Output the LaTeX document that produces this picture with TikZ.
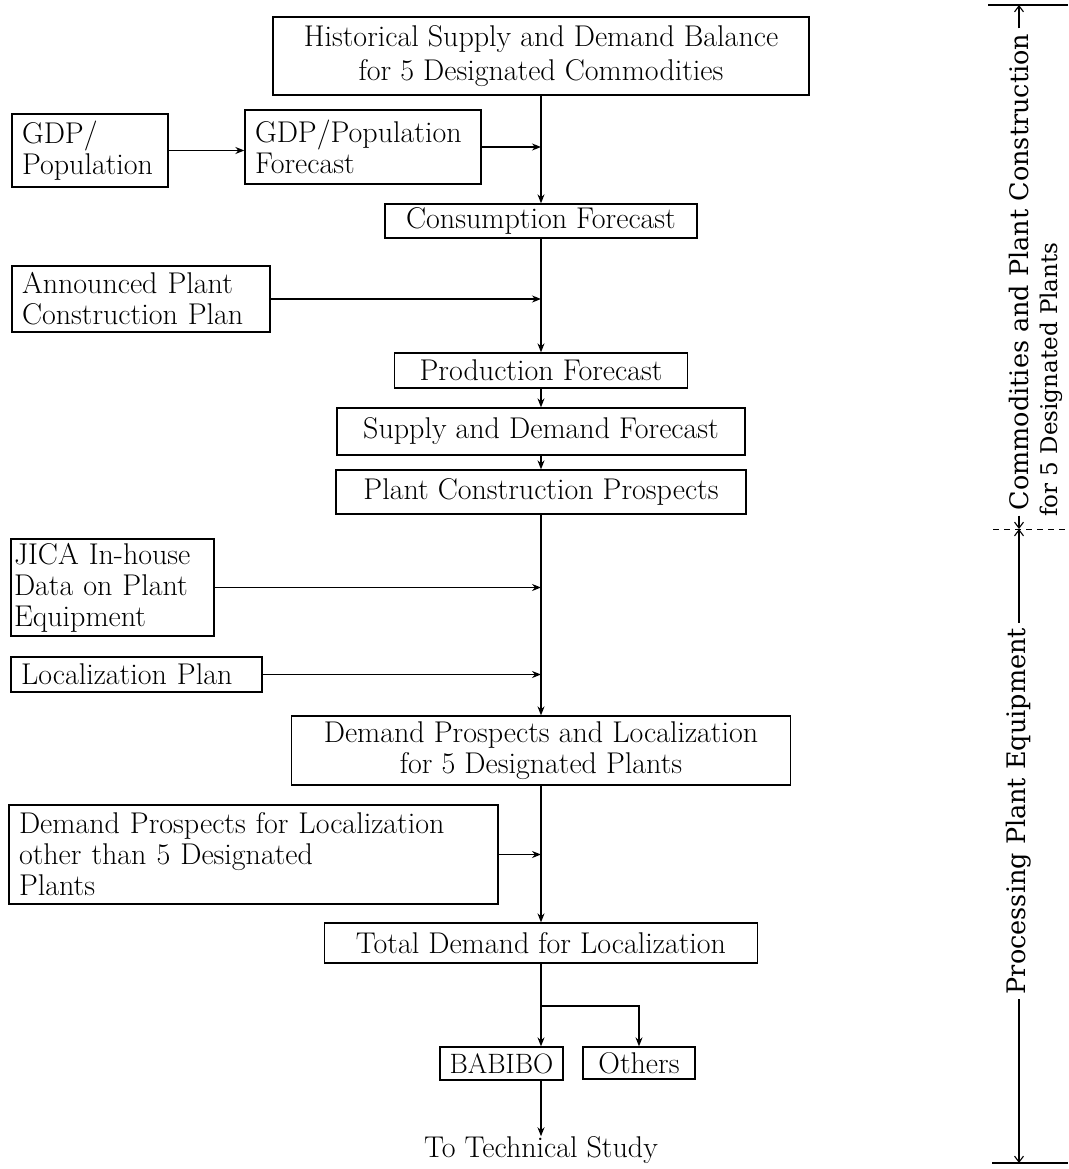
\documentclass[tikz,border=0pt]{standalone}
\usepackage{fontspec}
\usepackage{tikz}
\usetikzlibrary{arrows.meta}
\newfontfamily\dimfont{DejaVu Serif}
\newcommand{\flowfont}{\fontsize{30}{31}\selectfont}

\begin{document}
\begin{tikzpicture}[x=1pt, y=-1pt,
        box/.style={draw, line width=1.3pt, font=\flowfont, inner xsep=5pt, inner ysep=1pt},
        lbox/.style={box, align=left, inner xsep=10pt},
        flow/.style={line width=1.3pt, -{Stealth[length=9pt, width=7pt]}},
        dimline/.style={line width=1.1pt, -{Straight Barb[length=6pt, width=9pt]}},
        dimtext/.style={font=\dimfont\fontsize{25.5}{27}\selectfont, rotate=90, inner sep=5pt}]
        \useasboundingbox (0,0) rectangle (1068,1169);

        \node [box, align=center, minimum width=536pt, minimum height=78pt] (hist)   at (541,56)      {Historical Supply and Demand Balance\\[3pt]for 5 Designated Commodities};
        \node [lbox, text width=136pt, minimum height=73pt]                (gdp)    at (90,150.5)    {GDP/\\Population};
        \node [lbox, text width=216pt, minimum height=74pt]                (gdpfc)  at (363,147)     {GDP/Population\\Forecast};
        \node [box, minimum width=312pt, minimum height=34pt]              (cons)   at (541,221)     {Consumption Forecast};
        \node [lbox, text width=238pt, minimum height=66pt]                (annc)   at (141,299)     {Announced Plant\\Construction Plan};
        \node [box, minimum width=293pt, minimum height=35pt]              (prod)   at (541,370.5)   {Production Forecast};
        \node [box, minimum width=408pt, minimum height=47pt]              (sdf)    at (541,431.5)   {Supply and Demand Forecast};
        \node [box, minimum width=410pt, minimum height=44pt]              (pcp)    at (541,492)     {Plant Construction Prospects};
        \node [lbox, inner xsep=3pt, text width=197pt, minimum height=97pt] (jica)  at (112.5,587.5) {JICA In-house\\Data on Plant\\Equipment};
        \node [lbox, text width=231pt, minimum height=35pt]                (locp)   at (136.5,674.5) {Localization Plan};
        \node [box, align=center, minimum width=499pt, minimum height=69pt] (dpl)   at (541,750.5)   {Demand Prospects and Localization\\for 5 Designated Plants};
        \node [lbox, text width=469pt, minimum height=99pt]                (dpo)    at (253.5,854.5) {Demand Prospects for Localization\\other than 5 Designated\\Plants};
        \node [box, minimum width=433pt, minimum height=40pt]              (total)  at (541,943)     {Total Demand for Localization};
        \node [box, inner xsep=2pt, font=\fontsize{28}{30}\selectfont, minimum width=123pt, minimum height=33pt] (babibo) at (501.5,1063.5) {BABIBO};
        \node [box, minimum width=112pt, minimum height=32pt]              (others) at (639,1063)    {Others};
        \node [font=\flowfont, inner sep=0pt]                              (tech)   at (541,1150)    {To Technical Study};

        % main chain
        \draw [flow] (hist.south)  -- (cons.north);
        \draw [flow] (cons.south)  -- (prod.north);
        \draw [flow] (prod.south)  -- (sdf.north);
        \draw [flow] (sdf.south)   -- (pcp.north);
        \draw [flow] (pcp.south)   -- (dpl.north);
        \draw [flow] (dpl.south)   -- (total.north);
        \draw [flow] (total.south) -- (total.south |- babibo.north);
        \coordinate (split) at (541,1006);
        \draw [flow] (split) -| (others.north);
        \draw [flow] (babibo.south -| total.south) -- (tech.north);

        % side inputs
        \draw [flow] (gdp.east)   -- (gdp.east -| gdpfc.west);
        \draw [flow] (gdpfc.east) -- (gdpfc.east -| hist.south);
        \draw [flow] (annc.east)  -- (annc.east -| hist.south);
        \draw [flow] (jica.east)  -- (jica.east -| hist.south);
        \draw [flow] (locp.east)  -- (locp.east -| hist.south);
        \draw [flow] (dpo.east)   -- (dpo.east -| hist.south);

        % right hand scale
        \coordinate (dimtop) at (1019,5);
        \coordinate (dimmid) at (1019,529);
        \coordinate (dimbot) at (1019,1163);
        \draw [line width=1.1pt]         (988,5)    -- (1068,5);
        \draw [line width=1pt, dash pattern=on 6pt off 5pt] (993,529) -- (1068,529);
        \draw [line width=1.1pt]         (992,1163) -- (1068,1163);
        \node [dimtext]                                          (comm)  at (1019,272) {Commodities and Plant Construction};
        \node [dimtext, anchor=west, font=\dimfont\fontsize{23}{25}\selectfont] (desig) at (1051,522) {for 5 Designated Plants};
        \node [dimtext]                                          (proc)  at (1019,811) {Processing Plant Equipment};
        \draw [dimline] (comm.east) -- (dimtop);
        \draw [dimline] (comm.west) -- (dimmid);
        \draw [dimline] (proc.east) -- (dimmid);
        \draw [dimline] (proc.west) -- (dimbot);
\end{tikzpicture}
\end{document}
